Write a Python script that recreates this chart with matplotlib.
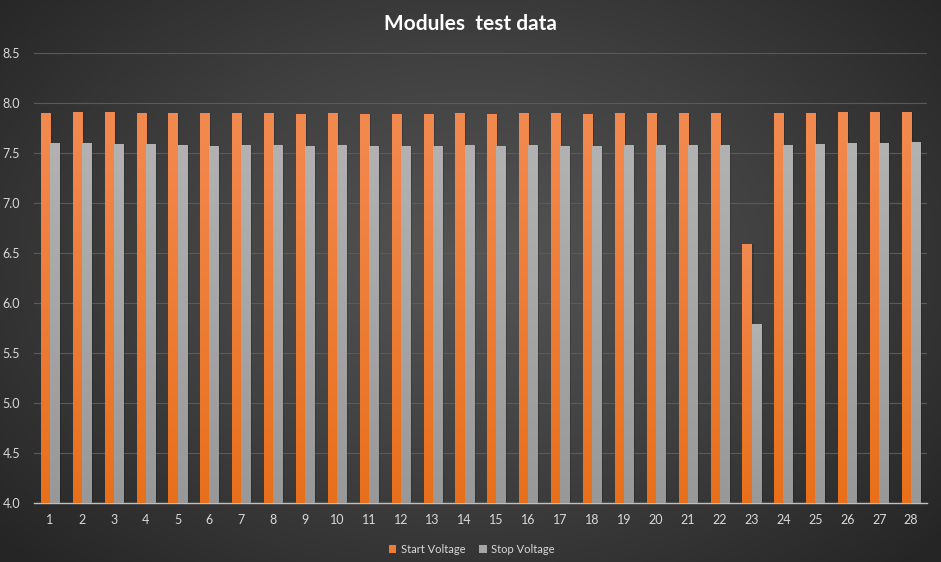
import numpy as np
import matplotlib
matplotlib.use("Agg")
import matplotlib.pyplot as plt
from matplotlib.colors import LinearSegmentedColormap

plt.rcParams['font.family'] = ['Lato', 'DejaVu Sans']

modules = [str(i) for i in range(1, 29)]
start_v = [7.90, 7.91, 7.91, 7.90, 7.90, 7.90, 7.90, 7.90, 7.89, 7.90,
           7.89, 7.89, 7.89, 7.90, 7.89, 7.90, 7.90, 7.89, 7.90, 7.90,
           7.90, 7.90, 6.59, 7.90, 7.90, 7.91, 7.91, 7.91]
stop_v = [7.60, 7.60, 7.59, 7.59, 7.58, 7.57, 7.58, 7.58, 7.57, 7.58,
          7.57, 7.57, 7.57, 7.58, 7.57, 7.58, 7.57, 7.57, 7.58, 7.58,
          7.58, 7.58, 5.79, 7.58, 7.59, 7.60, 7.60, 7.61]

W, H = 941, 562
fig = plt.figure(figsize=(W / 100, H / 100), dpi=100)

# radial background
bg = fig.add_axes([0, 0, 1, 1])
yy, xx = np.mgrid[0:H, 0:W]
r = np.sqrt(((xx - 470) / 620.0) ** 2 + ((yy - 260) / 420.0) ** 2)
r = np.clip(r, 0, 1)
bg_cmap = LinearSegmentedColormap.from_list('bg', ['#555555', '#404040', '#262626'])
bg.imshow(r, cmap=bg_cmap, aspect='auto', extent=[0, 1, 0, 1], origin='upper')
bg.set_axis_off()

ax = fig.add_axes([34 / W, 1 - 503 / H, (927 - 34) / W, (503 - 53) / H])
ax.patch.set_alpha(0)

x = np.arange(len(modules))
bw = 0.285
orange_cm = LinearSegmentedColormap.from_list('o', ['#E8701C', '#F28A50'])
gray_cm = LinearSegmentedColormap.from_list('g', ['#989898', '#B2B2B2'])
grad = np.linspace(0, 1, 256).reshape(-1, 1)

def grad_bars(xs, vals, cmap, color, label):
    # soft shadow
    ax.bar(xs + 0.06, np.array(vals) - 4.0, bw, bottom=4.0, color='black',
           alpha=0.18, zorder=2, linewidth=0)
    bars = ax.bar(xs, np.array(vals) - 4.0, bw, bottom=4.0, color=color,
                  zorder=3, linewidth=0, label=label)
    for b in bars:
        x0, y0 = b.get_x(), b.get_y()
        im = ax.imshow(grad, cmap=cmap, origin='lower', aspect='auto',
                       extent=[x0, x0 + b.get_width(), y0, y0 + b.get_height()],
                       zorder=4)
        im.set_clip_path(b)
    return bars

grad_bars(x - bw / 2, start_v, orange_cm, '#ED7D31', 'Start Voltage')
grad_bars(x + bw / 2, stop_v, gray_cm, '#A5A5A5', 'Stop Voltage')

ax.set_xlim(-0.5, len(modules) - 0.5)
ax.set_ylim(4.0, 8.5)
ax.set_yticks(np.arange(4.0, 8.51, 0.5))
ax.set_yticklabels(['%.1f' % v for v in np.arange(4.0, 8.51, 0.5)])
ax.set_xticks(x)
ax.set_xticklabels(modules)
ax.yaxis.grid(True, color='#5a5a5a', linewidth=0.8, zorder=0)
ax.set_axisbelow(True)
for s in ['top', 'right', 'left']:
    ax.spines[s].set_visible(False)
ax.spines['bottom'].set_color('#bfbfbf')
ax.spines['bottom'].set_linewidth(1.0)
ax.tick_params(axis='both', length=0, colors='#d9d9d9', labelsize=9)
ax.tick_params(axis='x', pad=8)
ax.tick_params(axis='y', pad=10)

fig.text(0.5, 1 - 24 / H, 'Modules  test data', ha='center', va='center',
         color='white', fontsize=15, fontweight='bold')

leg = ax.legend(loc='upper center', bbox_to_anchor=(0.49, -0.068), ncol=2,
                frameon=False, fontsize=8, handlelength=0.7, handleheight=0.7,
                columnspacing=1.2, handletextpad=0.4)
for t in leg.get_texts():
    t.set_color('#d9d9d9')

fig.savefig('out.png', dpi=100)
